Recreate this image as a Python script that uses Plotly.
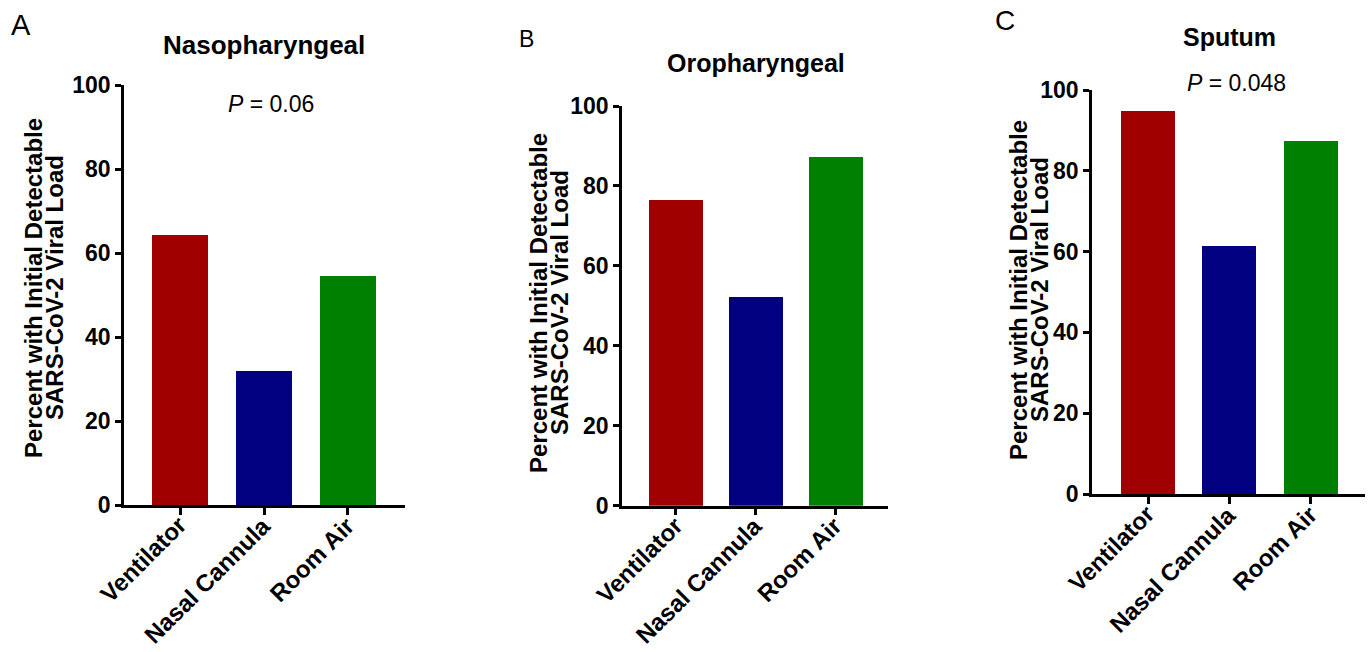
import plotly.graph_objects as go

W, H = 1371, 652

categories = ["Ventilator", "Nasal Cannula", "Room Air"]
naso_values = [64.3, 31.9, 54.5]
oro_values = [76.4, 52.2, 87.3]
sputum_values = [94.7, 61.5, 87.3]
y_ticks = [0, 20, 40, 60, 80, 100]
panel_titles = ["Nasopharyngeal", "Oropharyngeal", "Sputum"]
panel_letters = ["A", "B", "C"]
p_texts = ["<i>P</i> = 0.06", None, "<i>P</i> = 0.048"]
ytitle_lines = ["Percent with Initial Detectable", "SARS-CoV-2 Viral Load"]
bar_colors = ["#A00000", "#000080", "#008000"]

FONT = "Liberation Sans, Arial, sans-serif"


def px(x):
    return x / W


def py(y):
    return 1 - y / H


# panel geometry in pixels
panels = [
    dict(x0=124, x1=405, yt=85, yb=505, xr=[-0.667, 2.679], bw=0.667),
    dict(x0=622, x1=888, yt=106, yb=505.7, xr=[-0.676, 2.655], bw=0.675),
    dict(x0=1092, x1=1365, yt=90, yb=494, xr=[-0.693, 2.669], bw=0.665),
]
values = [naso_values, oro_values, sputum_values]

fig = go.Figure()
layout = dict(
    width=W, height=H,
    margin=dict(l=0, r=0, t=0, b=0, autoexpand=False),
    paper_bgcolor="white", plot_bgcolor="white",
    showlegend=False,
    bargap=0,
)

annotations = []

for i, (p, vals) in enumerate(zip(panels, values)):
    n = "" if i == 0 else str(i + 1)
    fig.add_trace(go.Bar(
        x=categories, y=vals,
        marker=dict(color=bar_colors, line=dict(width=0)),
        width=p["bw"],
        xaxis="x" + n, yaxis="y" + n,
    ))
    layout["xaxis" + n] = dict(
        domain=[px(p["x0"]), px(p["x1"])],
        anchor="y" + n,
        type="category",
        categoryorder="array", categoryarray=categories,
        range=p["xr"],
        automargin=False,
        showline=True, linecolor="black", linewidth=2.5,
        ticks="outside", ticklen=7, tickwidth=2.5, tickcolor="black",
        showticklabels=False,
        showgrid=False, zeroline=False, fixedrange=True,
    )
    layout["yaxis" + n] = dict(
        domain=[py(p["yb"]), py(p["yt"])],
        anchor="x" + n,
        range=[0, 100],
        tickvals=y_ticks,
        automargin=False,
        showline=True, linecolor="black", linewidth=2.5,
        ticks="outside", ticklen=6, tickwidth=2.5, tickcolor="black",
        tickfont=dict(family=FONT, size=23, color="black", weight="bold"),
        showgrid=False, zeroline=False, fixedrange=True,
    )
    # rotated category labels anchored under each tick
    for c in categories:
        annotations.append(dict(
            text="<b>%s</b>" % c, x=c, xref="x" + n,
            y=py(p["yb"] + 4), yref="paper",
            xanchor="right", yanchor="top", xshift=14,
            textangle=-45, showarrow=False,
            font=dict(family=FONT, size=24, color="black"),
        ))

# panel titles
title_pos = [(264, 45, 26), (756, 62.5, 25), (1229, 37, 25)]
for t, (x, y, s) in zip(panel_titles, title_pos):
    annotations.append(dict(
        text="<b>%s</b>" % t, x=px(x), y=py(y), xref="paper", yref="paper",
        xanchor="center", yanchor="middle", showarrow=False,
        font=dict(family=FONT, size=s, color="black"),
    ))
# letters
letter_pos = [(21, 25, 29), (526, 39, 23), (1005, 20, 28)]
for t, (x, y, s) in zip(panel_letters, letter_pos):
    annotations.append(dict(
        text=t, x=px(x), y=py(y), xref="paper", yref="paper",
        xanchor="center", yanchor="middle", showarrow=False,
        font=dict(family=FONT, size=s, color="black"),
    ))
# P values
p_pos = [(270.5, 104), None, (1236, 83)]
for t, pos in zip(p_texts, p_pos):
    if t is None:
        continue
    annotations.append(dict(
        text=t, x=px(pos[0]), y=py(pos[1]), xref="paper", yref="paper",
        xanchor="center", yanchor="middle", showarrow=False,
        font=dict(family=FONT, size=23, color="black"),
    ))
# y-axis titles (two lines each, tight spacing)
ytitle_pos = [((33, 54), 288), ((538, 559), 303), ((1018, 1039), 290)]
for (xs, yc) in ytitle_pos:
    for line, x in zip(ytitle_lines, xs):
        annotations.append(dict(
            text="<b>%s</b>" % line, x=px(x), y=py(yc), xref="paper", yref="paper",
            xanchor="center", yanchor="middle", showarrow=False, textangle=-90,
            font=dict(family=FONT, size=24, color="black"),
        ))

layout["annotations"] = annotations
fig.update_layout(**layout)
fig.write_html("out.html")
